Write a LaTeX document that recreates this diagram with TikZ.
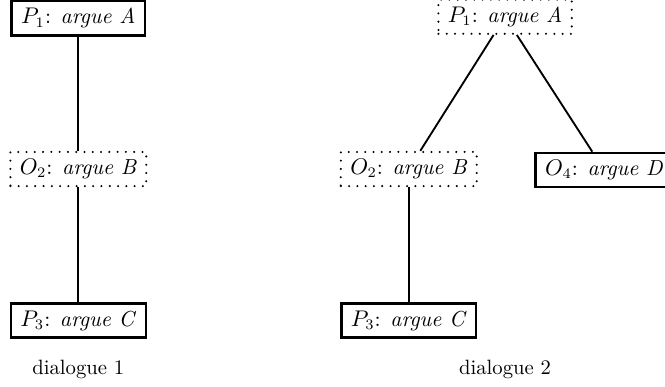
\documentclass[tikz,border=0pt]{standalone}
\usepackage{tikz}
\usetikzlibrary{positioning}

\begin{document}
\begin{tikzpicture}[
    move/.style={
        rectangle,
        draw=black,
        line width=1.2pt,
        font=\fontsize{10.5}{12}\selectfont,
        inner xsep=4.6pt,
        minimum height=16.5pt
    },
    openmove/.style={
        rectangle,
        draw=black,
        line width=1.1pt,
        dash pattern=on 0pt off 4pt,
        line cap=round,
        font=\fontsize{10.5}{12}\selectfont,
        inner xsep=4.6pt,
        minimum height=16.5pt
    },
    link/.style={
        line width=0.9pt
    },
    caption/.style={
        inner sep=0pt
    }
]
\useasboundingbox (0,0) rectangle (11.29,6.554);

% Dialogue 1
\node[move] (p1a) at (1.33, 6.245) {$P_1$: \textit{argue A}};
\node[openmove] (o2a) at (1.33, 3.684) {$O_2$: \textit{argue B}};
\node[move] (p3a) at (1.33, 1.112) {$P_3$: \textit{argue C}};
\node[caption] (d1) at (1.33, 0.288) {dialogue 1};

% Dialogue 2
\node[openmove] (p1b) at (8.575, 6.27) {$P_1$: \textit{argue A}};
\node[openmove] (o2b) at (6.94, 3.684) {$O_2$: \textit{argue B}};
\node[move] (o4b) at (10.256, 3.667) {$O_4$: \textit{argue D}};
\node[move] (p3b) at (6.94, 1.112) {$P_3$: \textit{argue C}};
\node[caption] (d2) at (8.575, 0.288) {dialogue 2};

% Liniile dintre mutari
\draw[link] (p1a) -- (o2a);
\draw[link] (o2a) -- (p3a);
\draw[link] (p1b) -- (o2b);
\draw[link] (p1b) -- (o4b);
\draw[link] (o2b) -- (p3b);

\end{tikzpicture}
\end{document}
